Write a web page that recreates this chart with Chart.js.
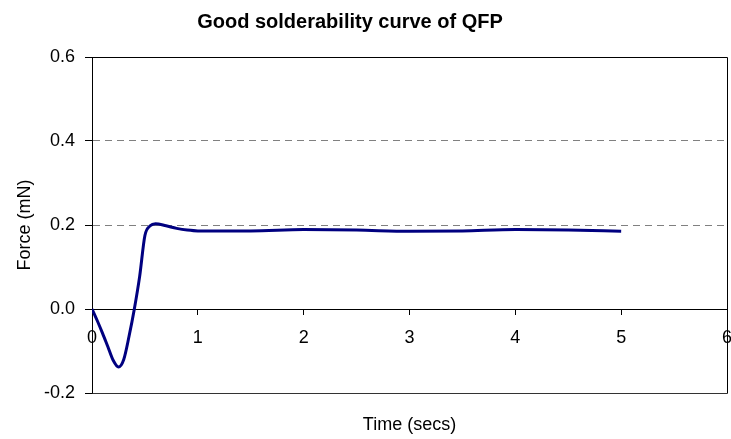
<!DOCTYPE html>
<html>
<head>
<meta charset="utf-8">
<script src="https://cdn.jsdelivr.net/npm/chart.js@4.4.1/dist/chart.umd.min.js"></script>
<style>
  html, body { margin: 0; padding: 0; background: #fff; }
  #wrap { width: 731px; height: 439px; position: relative; }
</style>
</head>
<body>
<div id="wrap"><canvas id="c" width="731" height="439"></canvas></div>
<script>
const chartTitle = "Good solderability curve of QFP";
const xTitle = "Time (secs)";
const yTitle = "Force (mN)";
const timeSecs = [0, 0.05, 0.1, 0.15, 0.2, 0.25, 0.3, 0.35, 0.4, 0.45, 0.5, 0.55, 0.6, 0.7, 0.8, 0.9, 1, 1.5, 2, 2.5, 3, 3.5, 4, 4.5, 5];
const forceMN = [0, -0.028, -0.058, -0.09, -0.122, -0.138, -0.12, -0.065, 0.0, 0.077, 0.175, 0.198, 0.203, 0.198, 0.192, 0.188, 0.186, 0.186, 0.189, 0.188, 0.185, 0.186, 0.189, 0.188, 0.185];
const xTicks = [0, 1, 2, 3, 4, 5, 6];
const yTicks = [-0.2, 0, 0.2, 0.4, 0.6];

const FONT = "'Liberation Sans', Arial, sans-serif";

const framePlugin = {
  id: 'frame',
  beforeDatasetsDraw(chart) {
    const { ctx, chartArea: a } = chart;
    const L = Math.round(a.left) + 0.5, R = Math.round(a.right) + 0.5;
    const T = Math.round(a.top) + 0.5, B = Math.round(a.bottom) + 0.5;
    ctx.save();
    ctx.lineWidth = 1;
    ctx.strokeStyle = '#000';
    ctx.beginPath();
    ctx.moveTo(L, B); ctx.lineTo(L, T); ctx.lineTo(R, T); ctx.lineTo(R, B);
    ctx.stroke();
    ctx.strokeStyle = '#333';
    ctx.beginPath();
    ctx.moveTo(L, B); ctx.lineTo(R, B);
    ctx.stroke();
    ctx.restore();
  },
  afterDraw(chart) {
    const { ctx, chartArea: a } = chart;
    ctx.save();
    ctx.fillStyle = '#000';
    ctx.font = "bold 20px " + FONT;
    ctx.textAlign = 'center';
    ctx.textBaseline = 'alphabetic';
    ctx.fillText(chartTitle, 350, 28);
    ctx.font = "18px " + FONT;
    ctx.fillText(xTitle, (a.left + a.right) / 2, 430);
    ctx.translate(25, (a.top + a.bottom) / 2);
    ctx.rotate(-Math.PI / 2);
    ctx.textBaseline = 'middle';
    ctx.fillText(yTitle, 0, 0);
    ctx.restore();
  }
};

new Chart(document.getElementById('c'), {
  type: 'line',
  data: {
    datasets: [{
      data: timeSecs.map((t, i) => ({ x: t, y: forceMN[i] })),
      borderColor: '#000080',
      borderWidth: 3,
      pointRadius: 0,
      fill: false,
      cubicInterpolationMode: 'monotone'
    }]
  },
  options: {
    responsive: false,
    animation: false,
    layout: { padding: { left: 0, right: 4, top: 57, bottom: 46 } },
    plugins: { legend: { display: false }, title: { display: false }, tooltip: { enabled: false } },
    scales: {
      x: {
        type: 'linear',
        min: 0, max: 6,
        position: { y: 0 },
        afterBuildTicks: s => { s.ticks = xTicks.map(v => ({ value: v })); },
        afterFit: s => { s.paddingLeft = 0; s.paddingRight = 0; },
        grid: { drawOnChartArea: false, drawTicks: true, tickLength: 5, tickColor: '#000' },
        border: { display: true, color: '#000', width: 1 },
        ticks: { color: '#000', font: { family: FONT, size: 18 }, padding: 13, maxRotation: 0, autoSkip: false }
      },
      y: {
        type: 'linear',
        min: -0.2, max: 0.6,
        afterBuildTicks: s => { s.ticks = yTicks.map(v => ({ value: v })); },
        afterFit: s => { s.width = 92; s.paddingTop = 0; s.paddingBottom = 0; },
        grid: { color: '#808080', drawTicks: true, tickLength: 7, tickColor: '#000', tickBorderDash: [] },
        border: { display: true, color: '#000', dash: [7, 5] },
        ticks: { color: '#000', font: { family: FONT, size: 18 }, padding: 10, callback: v => v.toFixed(1) }
      }
    }
  },
  plugins: [framePlugin]
});
</script>
</body>
</html>
